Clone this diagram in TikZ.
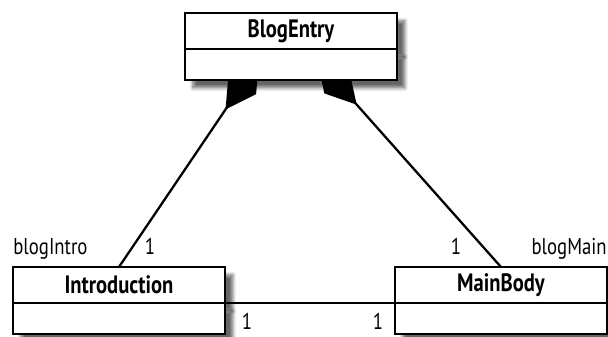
\documentclass[tikz,border=0pt]{standalone}
\usepackage{fontspec}
\setmainfont[FakeStretch=0.82]{PT Sans}
\usetikzlibrary{arrows.meta,positioning,shadows.blur,backgrounds}

\begin{document}
\begin{tikzpicture}[
  x=0.02cm, y=-0.02cm,
  font=\fontsize{13}{15}\selectfont,
  cls/.style={draw, fill=white, line width=1.3pt, outer sep=0pt, minimum width=4.24cm,
    blur shadow={shadow xshift=4.5pt, shadow yshift=-4.5pt, shadow blur steps=6, shadow opacity=60}},
  title/.style={cls, minimum height=0.72cm, font=\fontsize{14.3}{16}\selectfont\bfseries},
  comp/.style={cls, minimum height=0.62cm},
  lbl/.style={inner sep=0pt},
  whole/.style={-{Diamond[length=34pt, width=19pt]}, line width=1.3pt},
  assoc/.style={line width=1.3pt}
]
\useasboundingbox (0,0) rectangle (608,337);
% classes
\node[title, anchor=north west] (entryT) at (185,13) {BlogEntry};
\node[comp, below=0pt of entryT] (entryB) {};
\node[title, anchor=north west] (introT) at (13,267) {Introduction};
\node[comp, below=0pt of introT] (introB) {};
\node[title, anchor=north west] (mainT) at (395,267) {MainBody};
\node[comp, below=0pt of mainT] (mainB) {};

% compositions
\coordinate (tl) at (259,60);
\coordinate (tr) at (317,60);
\begin{scope}[on background layer]
\draw[whole] (introT.north) -- (tl);
\draw[whole] (mainT.north) -- (tr);
\end{scope}
\draw[assoc] (introT.south east) -- (mainT.south west);

% roles and multiplicities
\node[lbl, anchor=base west] (introRole) at (13,255) {blogIntro};
\node[lbl, anchor=base] (introMult) at (150,255) {1};
\node[lbl, anchor=base] (mainMult) at (456,255) {1};
\node[lbl, anchor=base east] (mainRole) at (607,255) {blogMain};
\node[lbl, anchor=base] (introEnd) at (247,330) {1};
\node[lbl, anchor=base] (mainEnd) at (378,330) {1};
\end{tikzpicture}
\end{document}
